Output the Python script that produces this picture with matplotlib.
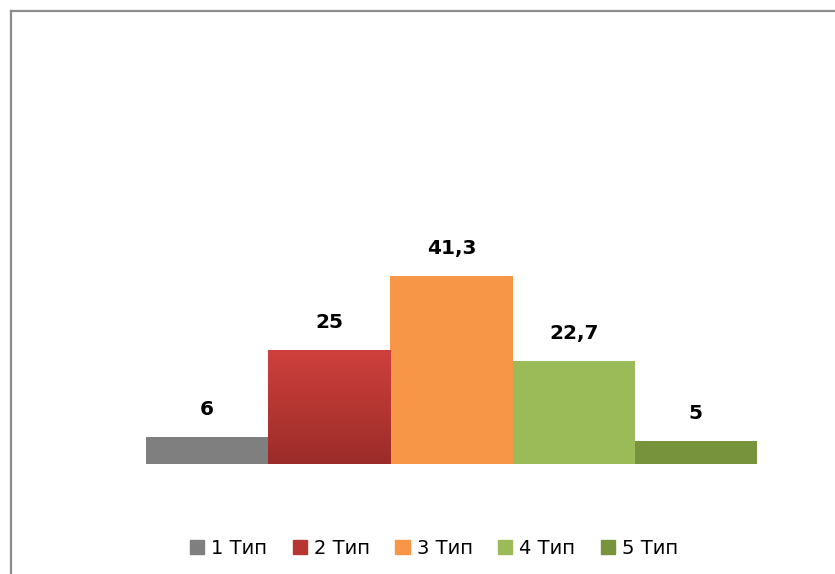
import matplotlib.pyplot as plt
import matplotlib.patheffects as pe
from matplotlib.lines import Line2D
from matplotlib.colors import LinearSegmentedColormap
import numpy as np

# 데이터
categories = ['1 Тип', '2 Тип', '3 Тип', '4 Тип', '5 Тип']
values = [6, 25, 41.3, 22.7, 5]
labels = ['6', '25', '41,3', '22,7', '5']
colors = ['#7f7f7f', '#b83632', '#f79646', '#9bbb59', '#77933c']

fig = plt.figure(figsize=(8.35, 5.74), dpi=100)
W, H = 835, 574
ax = fig.add_axes([146 / W, 110 / H, 611 / W, 410 / H])

pos = np.arange(len(categories))
shadow = [pe.SimplePatchShadow(offset=(0, -1.5), shadow_rgbFace='#999999', alpha=0.3), pe.Normal()]
bars = ax.bar(pos, values, width=1.0, color=colors, zorder=2, path_effects=shadow)

# 빨간 막대는 그라데이션으로 칠합니다
b = bars[1]
b.set_facecolor('none')
grad = np.linspace(0, 1, 256).reshape(-1, 1)
cmap = LinearSegmentedColormap.from_list('red', ['#9b2c29', '#cf403c'])
x0 = b.get_x()
ax.imshow(grad, extent=[x0, x0 + b.get_width(), 0, b.get_height()], origin='lower',
          cmap=cmap, aspect='auto', zorder=2.5)

for p, v, t in zip(pos, values, labels):
    ax.annotate(t, (p, v), xytext=(0, 13), textcoords='offset points', ha='center', va='bottom',
                fontsize=14.5, fontweight='bold', color='black')

ax.set_xlim(-0.5, 4.5)
ax.set_ylim(0, 90)
ax.axis('off')

handles = [plt.Rectangle((0, 0), 1, 1, color=c) for c in colors]
fig.legend(handles, categories, loc='center', bbox_to_anchor=(434 / W, 1 - 548 / H), ncol=5,
           frameon=False, fontsize=14, handlelength=0.75, handleheight=0.75,
           handletextpad=0.35, columnspacing=1.3)

# 테두리 선
fig.add_artist(Line2D([10.5 / W, 10.5 / W], [0, 1 - 10.5 / H], color='#8c8c8c', lw=1.6))
fig.add_artist(Line2D([10.5 / W, 1], [1 - 10.5 / H, 1 - 10.5 / H], color='#8c8c8c', lw=1.6))

plt.savefig('out.png', dpi=100)
